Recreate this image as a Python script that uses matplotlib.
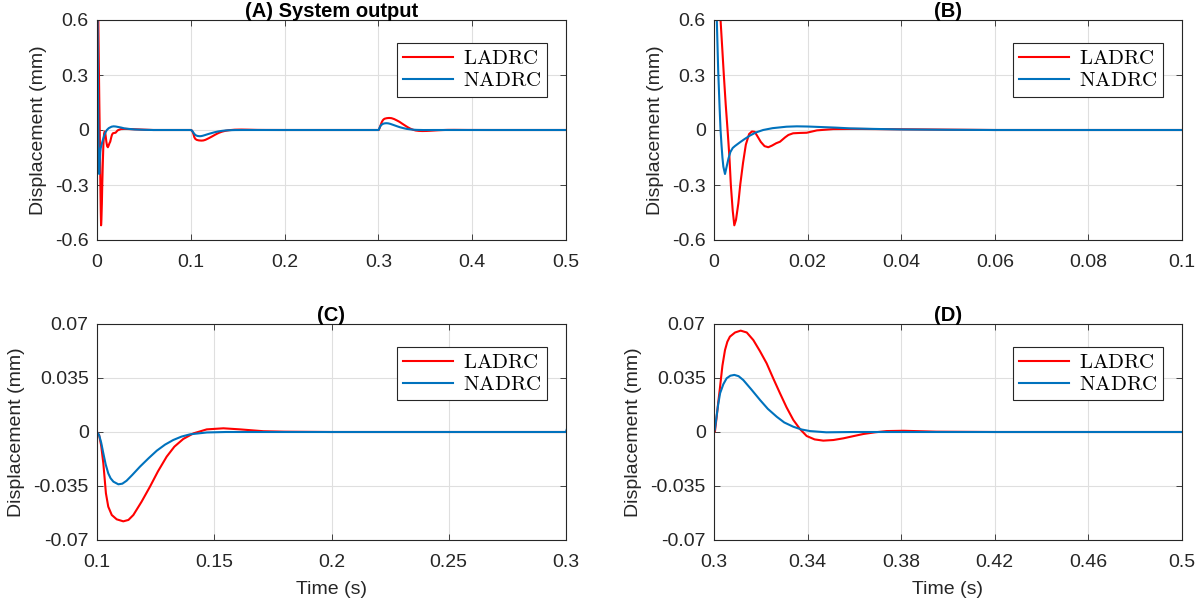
import numpy as np
import matplotlib
matplotlib.use("Agg")
import matplotlib.pyplot as plt

plt.rcParams["font.family"] = ["Liberation Sans", "DejaVu Sans"]
plt.rcParams["mathtext.fontset"] = "cm"
plt.rcParams["font.size"] = 14

# LADRC response, three pieces: start-up, step at 0.1 s, step at 0.3 s
t_ladrc_start = [0, 0.0005, 0.001, 0.0014, 0.0018, 0.0021, 0.0025, 0.0029, 0.0033, 0.0036,
                 0.0040, 0.00434, 0.0047, 0.0052, 0.0056, 0.0062, 0.0068, 0.0075, 0.0081,
                 0.0087, 0.0093, 0.0100, 0.0108, 0.0116, 0.0124, 0.0133, 0.0141, 0.0152,
                 0.0159, 0.0169, 0.0184, 0.0198, 0.022, 0.0255, 0.03, 0.035, 0.04, 0.045,
                 0.05, 0.06, 0.08]
y_ladrc_start = [1.2, 1.0, 0.8, 0.6, 0.43, 0.3, 0.14, 0.0, -0.15, -0.3,
                 -0.44, -0.52, -0.49, -0.4, -0.3, -0.18, -0.08, -0.022, -0.008,
                 -0.01, -0.035, -0.065, -0.088, -0.094, -0.085, -0.072, -0.064, -0.04,
                 -0.027, -0.018, -0.016, -0.015, -0.002, 0.005, 0.006, 0.005, 0.004, 0.003,
                 0.002, 0.0, 0.0]
t_ladrc_step1 = [0.1, 0.1009, 0.1018, 0.1027, 0.1038, 0.1048, 0.1063, 0.1084, 0.1112, 0.1134,
                 0.1155, 0.119, 0.1226, 0.126, 0.1297, 0.133, 0.1368, 0.1411, 0.1468, 0.1539,
                 0.161, 0.171, 0.18, 0.2]
y_ladrc_step1 = [0, -0.002, -0.009, -0.0203, -0.0397, -0.0484, -0.0538, -0.0566, -0.0579, -0.057,
                 -0.0538, -0.0452, -0.0354, -0.0255, -0.016, -0.0095, -0.0045, -0.0009, 0.0017, 0.0024,
                 0.0017, 0.0005, 0.0002, 0]
t_ladrc_step2 = [0.3, 0.3004, 0.301, 0.3018, 0.3026, 0.3036, 0.3047, 0.3057, 0.3068, 0.309,
                 0.3114, 0.314, 0.3168, 0.3196, 0.3225, 0.3253, 0.3282, 0.331, 0.3339, 0.3368,
                 0.3396, 0.343, 0.3467, 0.351, 0.3553, 0.3595, 0.3638, 0.3688, 0.3738, 0.381,
                 0.395, 0.42, 0.5]
y_ladrc_step2 = [0, 0.0003, 0.008, 0.019, 0.0294, 0.043, 0.0531, 0.0585, 0.0618, 0.0645,
                 0.0657, 0.0645, 0.0596, 0.0525, 0.0445, 0.0348, 0.0251, 0.016, 0.0078, 0.0018,
                 -0.0026, -0.0048, -0.0056, -0.0052, -0.0041, -0.0027, -0.0013, -0.0002, 0.0006, 0.0008,
                 0.0002, 0, 0]

# NADRC response
t_nadrc_start = [0, 0.0003, 0.0006, 0.0009, 0.0012, 0.0014, 0.0016, 0.0018, 0.0020, 0.00235,
                 0.0027, 0.0031, 0.0035, 0.004, 0.0045, 0.0055, 0.0065, 0.0077, 0.009, 0.0105,
                 0.0125, 0.0155, 0.0177, 0.02, 0.023, 0.026, 0.029, 0.034, 0.04, 0.05,
                 0.06, 0.08]
y_nadrc_start = [1.2, 0.9, 0.6, 0.32, 0.12, 0.0, -0.08, -0.15, -0.2, -0.24,
                 -0.2, -0.155, -0.12, -0.098, -0.087, -0.068, -0.05, -0.03, -0.013, 0.0,
                 0.01, 0.018, 0.02, 0.019, 0.016, 0.013, 0.009, 0.006, 0.003, 0.001,
                 0.0, 0.0]
t_nadrc_step1 = [0.1, 0.1009, 0.1018, 0.1027, 0.1037, 0.1048, 0.1058, 0.107, 0.1091, 0.1108,
                 0.1126, 0.115, 0.1183, 0.122, 0.1255, 0.129, 0.1325, 0.136, 0.1397, 0.1468,
                 0.155, 0.2]
y_nadrc_step1 = [0, -0.002, -0.007, -0.0138, -0.021, -0.0268, -0.03, -0.0322, -0.0339, -0.0335,
                 -0.0316, -0.0279, -0.0225, -0.017, -0.0121, -0.0082, -0.0052, -0.003, -0.0015, -0.0003,
                 0, 0]
t_nadrc_step2 = [0.3, 0.3004, 0.301, 0.3018, 0.3026, 0.304, 0.3054, 0.307, 0.3087, 0.3105,
                 0.3125, 0.316, 0.3197, 0.323, 0.3268, 0.330, 0.3339, 0.3375, 0.341, 0.348,
                 0.36, 0.5]
y_nadrc_step2 = [0, 0.002, 0.009, 0.018, 0.0251, 0.031, 0.0348, 0.0365, 0.037, 0.0362,
                 0.0337, 0.0275, 0.0207, 0.015, 0.0099, 0.0062, 0.0034, 0.0016, 0.0006, -0.0002,
                 0, 0]

t_ladrc = np.array(t_ladrc_start + t_ladrc_step1 + t_ladrc_step2)
y_ladrc = np.array(y_ladrc_start + y_ladrc_step1 + y_ladrc_step2)
t_nadrc = np.array(t_nadrc_start + t_nadrc_step1 + t_nadrc_step2)
y_nadrc = np.array(y_nadrc_start + y_nadrc_step1 + y_nadrc_step2)

titles = ["(A) System output", "(B)", "(C)", "(D)"]
xlims = [(0, 0.5), (0, 0.1), (0.1, 0.3), (0.3, 0.5)]
xticks = [
    [0, 0.1, 0.2, 0.3, 0.4, 0.5],
    [0, 0.02, 0.04, 0.06, 0.08, 0.1],
    [0.1, 0.15, 0.2, 0.25, 0.3],
    [0.3, 0.34, 0.38, 0.42, 0.46, 0.5],
]
xticklabels = [
    ["0", "0.1", "0.2", "0.3", "0.4", "0.5"],
    ["0", "0.02", "0.04", "0.06", "0.08", "0.1"],
    ["0.1", "0.15", "0.2", "0.25", "0.3"],
    ["0.3", "0.34", "0.38", "0.42", "0.46", "0.5"],
]
yticks_big = [-0.6, -0.3, 0, 0.3, 0.6]
yticklabels_big = ["-0.6", "-0.3", "0", "0.3", "0.6"]
yticks_small = [-0.07, -0.035, 0, 0.035, 0.07]
yticklabels_small = ["-0.07", "-0.035", "0", "0.035", "0.07"]

W, H = 1204, 602
# axes boxes in pixels: left, top, right, bottom
boxes = [(97, 20, 566, 240), (714, 20, 1182, 240), (97, 324, 566, 540), (714, 324, 1182, 540)]

ink = "#262626"
fig = plt.figure(figsize=(W / 100, H / 100), dpi=100)

for i, (l, t, r, b) in enumerate(boxes):
    ax = fig.add_axes([l / W, 1 - b / H, (r - l) / W, (b - t) / H])
    ax.plot(t_ladrc, y_ladrc, color="#ff0000", lw=1.5, label=r"$\mathrm{LADRC}$")
    ax.plot(t_nadrc, y_nadrc, color="#0072bd", lw=1.5, label=r"$\mathrm{NADRC}$")
    ax.set_xlim(*xlims[i])
    ax.set_xticks(xticks[i])
    ax.set_xticklabels(xticklabels[i])
    if i < 2:
        ax.set_ylim(-0.6, 0.6)
        ax.set_yticks(yticks_big)
        ax.set_yticklabels(yticklabels_big)
    else:
        ax.set_ylim(-0.07, 0.07)
        ax.set_yticks(yticks_small)
        ax.set_yticklabels(yticklabels_small)
        ax.set_xlabel("Time (s)", fontsize=14, color=ink, labelpad=7)
    ax.set_ylabel("Displacement (mm)", fontsize=14, color=ink, labelpad=6)
    ax.set_title(titles[i], fontsize=14.5, fontweight="bold", color="black", pad=2)
    ax.grid(True, color="#dfdfdf", lw=0.8)
    ax.set_axisbelow(True)
    for s in ax.spines.values():
        s.set_color(ink)
        s.set_linewidth(0.8)
    ax.tick_params(direction="in", length=4, width=0.6, colors=ink, labelsize=14,
                   top=True, right=True)
    ax.tick_params(axis="x", pad=10)
    ax.tick_params(axis="y", pad=6)
    leg = ax.legend(loc="upper right", bbox_to_anchor=(0.96, 0.895), borderaxespad=0,
                    fontsize=15, frameon=True, fancybox=False, framealpha=1,
                    handlelength=2.4, handletextpad=0.45, borderpad=0.3, labelspacing=0.15)
    leg.get_frame().set_edgecolor(ink)
    leg.get_frame().set_linewidth(0.8)

fig.savefig("out.png", dpi=100)
